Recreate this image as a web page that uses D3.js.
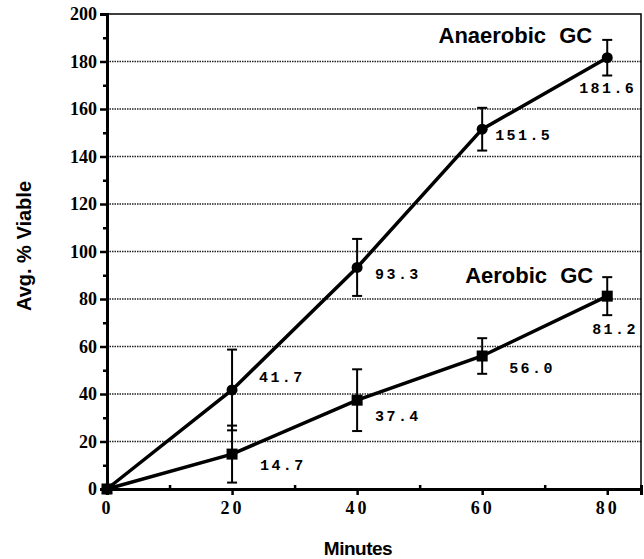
<!DOCTYPE html>
<html>
<head>
<meta charset="utf-8">
<script src="https://cdn.jsdelivr.net/npm/d3@7"></script>
<style>
  body { margin: 0; background: #fff; }
  svg { display: block; }
</style>
</head>
<body>
<svg id="drawing_region"></svg>
<script>
const minutes = [0, 20, 40, 60, 80];
const anaerobic = [0, 41.7, 93.3, 151.5, 181.6];
const anaerobicErr = [0, 17, 12, 9, 7.5];
const aerobic = [0, 14.7, 37.4, 56.0, 81.2];
const aerobicErr = [0, 12, 13, 7.5, 8];
const yTicks = [0, 20, 40, 60, 80, 100, 120, 140, 160, 180, 200];
const xTicks = [0, 20, 40, 60, 80];

const config = {
    width: 644,
    height: 559,
    margin: {top: 14, right: 3, bottom: 70, left: 107}
};

const svg = d3.select('#drawing_region')
    .attr('width', config.width)
    .attr('height', config.height);

const inner_width = config.width - config.margin.left - config.margin.right;
const inner_height = config.height - config.margin.top - config.margin.bottom;

const chart = svg.append('g')
    .attr('transform', `translate(${config.margin.left}, ${config.margin.top})`);

const xscale = d3.scaleLinear().domain([0, 85.4]).range([0, inner_width]);
const yscale = d3.scaleLinear().domain([0, 200]).range([inner_height, 0]);

// dotted gridlines
chart.selectAll('.grid')
    .data(yTicks.filter(d => d > 0 && d < 200))
    .enter().append('line')
    .attr('x1', 0).attr('x2', inner_width)
    .attr('y1', d => yscale(d)).attr('y2', d => yscale(d))
    .attr('stroke', '#222').attr('stroke-width', 1.6)
    .attr('stroke-dasharray', '1.5,1');

// frame
chart.append('rect')
    .attr('width', inner_width).attr('height', inner_height)
    .attr('fill', 'none').attr('stroke', '#000').attr('stroke-width', 1.5);

// y axis
const yaxis = d3.axisLeft(yscale).tickValues(yTicks).tickSize(7).tickPadding(3);
const yg = chart.append('g').call(yaxis);
const ymin = chart.append('g').call(
    d3.axisLeft(yscale).tickValues(d3.range(10, 200, 20)).tickSize(4).tickFormat(''));

// x axis
const xaxis = d3.axisBottom(xscale).tickValues(xTicks).tickSize(6).tickPadding(6);
const xg = chart.append('g').attr('transform', `translate(0, ${inner_height})`).call(xaxis);
const xmin = chart.append('g').attr('transform', `translate(0, ${inner_height})`).call(
    d3.axisTop(xscale).tickValues([10, 30, 50, 70]).tickSize(4).tickFormat(''));

[yg, ymin, xg, xmin].forEach(g => {
    g.select('.domain').attr('stroke', '#000').attr('stroke-width', 3);
    g.selectAll('.tick line').attr('stroke', '#000').attr('stroke-width', 2.5);
});
yg.selectAll('.tick text')
    .attr('font-family', "'Liberation Serif', 'Times New Roman', serif").attr('font-weight', 'bold')
    .attr('font-size', '18px').attr('fill', '#000');
xg.selectAll('.tick text')
    .attr('font-family', "'Liberation Serif', 'Times New Roman', serif").attr('font-weight', 'bold')
    .attr('font-size', '18px').attr('letter-spacing', '3px').attr('fill', '#000');

// series
const series = [
    {values: anaerobic, err: anaerobicErr, shape: 'circle'},
    {values: aerobic, err: aerobicErr, shape: 'square'}
];
const line = d3.line().x((d, i) => xscale(minutes[i])).y(d => yscale(d));

series.forEach(s => {
    chart.append('path')
        .attr('d', line(s.values))
        .attr('fill', 'none').attr('stroke', '#000').attr('stroke-width', 3.5);

    const eb = chart.append('g');
    s.values.forEach((v, i) => {
        if (s.err[i] <= 0) return;
        const x = xscale(minutes[i]);
        const y1 = yscale(v + s.err[i]);
        const y2 = yscale(v - s.err[i]);
        eb.append('line').attr('x1', x).attr('x2', x).attr('y1', y1).attr('y2', y2)
            .attr('stroke', '#000').attr('stroke-width', 2);
        [y1, y2].forEach(y => eb.append('line')
            .attr('x1', x - 5).attr('x2', x + 5).attr('y1', y).attr('y2', y)
            .attr('stroke', '#000').attr('stroke-width', 2));
    });

    if (s.shape === 'circle') {
        chart.selectAll(null).data(s.values).enter().append('circle')
            .attr('cx', (d, i) => xscale(minutes[i]))
            .attr('cy', d => yscale(d))
            .attr('r', 5.5).attr('fill', '#000');
    } else {
        chart.selectAll(null).data(s.values).enter().append('rect')
            .attr('x', (d, i) => xscale(minutes[i]) - 5.5)
            .attr('y', d => yscale(d) - 5.5)
            .attr('width', 11).attr('height', 11).attr('fill', '#000');
    }
});

// value labels (offset from the point, in px)
const labelOffsets = {
    anaerobic: [null, [27, -8], [18, 12], [13, 11], [-28, 35]],
    aerobic: [null, [28, 16], [18, 21], [27, 17], [-15, 38]]
};
function valueLabels(values, offs) {
    values.forEach((v, i) => {
        if (!offs[i]) return;
        chart.append('text')
            .attr('x', xscale(minutes[i]) + offs[i][0])
            .attr('y', yscale(v) + offs[i][1])
            .attr('font-family', 'Liberation Mono').attr('font-weight', 'bold')
            .attr('font-size', '15px').attr('letter-spacing', '2.4px')
            .attr('fill', '#000')
            .text(v.toFixed(1));
    });
}
valueLabels(anaerobic, labelOffsets.anaerobic);
valueLabels(aerobic, labelOffsets.aerobic);

// series names
chart.append('text')
    .attr('x', xscale(80) - 15).attr('y', 29)
    .attr('text-anchor', 'end')
    .attr('font-family', 'Liberation Sans').attr('font-weight', 'bold')
    .attr('font-size', '22px').attr('word-spacing', '7px')
    .text('Anaerobic GC');
chart.append('text')
    .attr('x', xscale(80) - 14).attr('y', 269)
    .attr('text-anchor', 'end')
    .attr('font-family', 'Liberation Sans').attr('font-weight', 'bold')
    .attr('font-size', '22px').attr('word-spacing', '7px')
    .text('Aerobic GC');

// axis titles
svg.append('text')
    .attr('x', 358).attr('y', 555)
    .attr('text-anchor', 'middle')
    .attr('font-family', 'Liberation Sans').attr('font-weight', 'bold')
    .attr('font-size', '19px').attr('letter-spacing', '-0.5px')
    .text('Minutes');
svg.append('text')
    .attr('transform', 'translate(31, 246) rotate(-90)')
    .attr('text-anchor', 'middle')
    .attr('font-family', 'Liberation Sans').attr('font-weight', 'bold')
    .attr('font-size', '20px')
    .text('Avg. % Viable');
</script>
</body>
</html>
